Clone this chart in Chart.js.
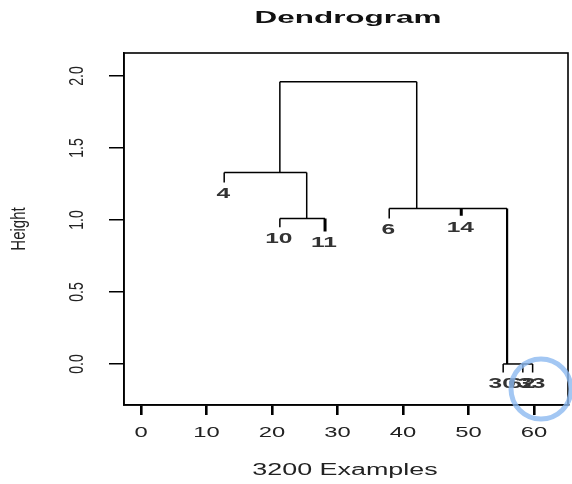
<!DOCTYPE html>
<html>
<head>
<meta charset="utf-8">
<script src="https://cdn.jsdelivr.net/npm/chart.js@4"></script>
<style>
  html, body { margin: 0; padding: 0; background: #fff; }
  #wrap { width: 572px; height: 484px; position: relative; }
</style>
</head>
<body>
<div id="wrap"><canvas id="chart"></canvas></div>
<script>
// leaves of the tree (x position, lower end of the stem, label)
const leafLabels = ["4", "10", "11", "6", "14", "30", "62", "33"];
const leafX = [12.7, 21.2, 28.1, 37.9, 48.9, 55.3, 58.3, 59.8];
const leafEnd = [1.26, 0.95, 0.92, 1.01, 1.03, -0.06, -0.06, -0.06];
const leafParent = [1, 2, 2, 3, 3, 4, 4, 4];

// merges: height of the join, horizontal span, stem going up to the parent
const mergeHeight = [1.96, 1.33, 1.01, 1.08, 0.0];
const mergeFrom = [21.2, 12.7, 21.2, 37.9, 55.3];
const mergeTo = [42.1, 25.3, 28.1, 55.9, 59.8];
const mergeStemX = [null, 21.2, 25.3, 42.1, 55.9];
const mergeParent = [null, 0, 1, 0, 3];

const xTicks = [0, 10, 20, 30, 40, 50, 60];
const xTickLabels = ["0", "10", "20", "30", "40", "50", "60"];
const yTicks = [0, 0.5, 1, 1.5, 2];
const yTickLabels = ["0.0", "0.5", "1.0", "1.5", "2.0"];

const thickLeaves = ["11", "14"];

function seg(points, width) {
  return {
    data: points,
    showLine: true,
    fill: false,
    borderColor: "#000",
    borderWidth: width,
    pointRadius: 0,
  };
}

function createData() {
  let datasets = [];
  for (let i = 0; i < mergeHeight.length; i++) {
    let h = mergeHeight[i];
    datasets.push(seg([{ x: mergeFrom[i], y: h }, { x: mergeTo[i], y: h }], 1.5));
    if (mergeParent[i] !== null) {
      let ph = mergeHeight[mergeParent[i]];
      datasets.push(seg([{ x: mergeStemX[i], y: ph }, { x: mergeStemX[i], y: h }], i == 4 ? 2.2 : 1.5));
    }
  }
  for (let i = 0; i < leafX.length; i++) {
    let ph = mergeHeight[leafParent[i]];
    let w = thickLeaves.includes(leafLabels[i]) ? 3 : 1.5;
    datasets.push(seg([{ x: leafX[i], y: ph }, { x: leafX[i], y: leafEnd[i] }], w));
  }
  return { datasets: datasets };
}

// text in the picture is stretched sideways, so draw it with a scale
function wideText(ctx, text, x, y, sx) {
  ctx.save();
  ctx.translate(x, y);
  ctx.scale(sx, 1);
  ctx.textAlign = "center";
  ctx.textBaseline = "middle";
  ctx.fillText(text, 0, 0);
  ctx.restore();
}

function upText(ctx, text, x, y, sy) {
  ctx.save();
  ctx.translate(x, y);
  ctx.rotate(-Math.PI / 2);
  ctx.scale(1, sy);
  ctx.textAlign = "center";
  ctx.textBaseline = "middle";
  ctx.fillText(text, 0, 0);
  ctx.restore();
}

const decor = {
  id: "decor",
  afterDraw(chart) {
    const ctx = chart.ctx;
    const a = chart.chartArea;
    const xs = chart.scales.x;
    const ys = chart.scales.y;
    ctx.save();

    // box
    ctx.strokeStyle = "#000";
    ctx.lineWidth = 1.6;
    ctx.strokeRect(a.left, a.top, a.right - a.left, a.bottom - a.top);

    // title
    ctx.fillStyle = "#111";
    ctx.font = "bold 17px 'Liberation Sans', Arial, sans-serif";
    wideText(ctx, "Dendrogram", 348, 18, 1.85);

    // x tick labels and title
    ctx.fillStyle = "#222";
    ctx.font = "14px 'Liberation Sans', Arial, sans-serif";
    xTicks.forEach((v, i) => wideText(ctx, xTickLabels[i], xs.getPixelForValue(v), 433, 1.7));
    ctx.font = "16px 'Liberation Sans', Arial, sans-serif";
    wideText(ctx, "3200 Examples", 345, 471, 1.68);

    // y tick labels and title, rotated
    ctx.font = "14px 'Liberation Sans', Arial, sans-serif";
    yTicks.forEach((v, i) => upText(ctx, yTickLabels[i], 78, ys.getPixelForValue(v), 1.4));
    ctx.font = "15px 'Liberation Sans', Arial, sans-serif";
    upText(ctx, "Height", 19, (a.top + a.bottom) / 2, 1.4);

    // leaf labels
    ctx.fillStyle = "#333";
    ctx.font = "bold 14px 'Liberation Sans', Arial, sans-serif";
    leafX.forEach((v, i) => {
      wideText(ctx, leafLabels[i], xs.getPixelForValue(v) - 1, ys.getPixelForValue(leafEnd[i]) + 12, 1.75);
    });

    // highlight ring
    ctx.strokeStyle = "rgba(140, 185, 240, 0.8)";
    ctx.lineWidth = 5;
    ctx.beginPath();
    ctx.arc(541, 389, 30, 0, Math.PI * 2);
    ctx.stroke();

    ctx.restore();
  },
};

const options = {
  responsive: true,
  maintainAspectRatio: false,
  animation: false,
  layout: {
    padding: { top: 53, right: 4, left: 0, bottom: 0 },
  },
  plugins: {
    legend: { display: false },
    tooltip: { enabled: false },
    title: { display: false },
  },
  scales: {
    x: {
      type: "linear",
      min: -2.6,
      max: 65.2,
      afterBuildTicks: (s) => { s.ticks = xTicks.map((v) => ({ value: v })); },
      afterFit: (s) => { s.height = 79; },
      ticks: { display: false },
      grid: { drawOnChartArea: false, drawTicks: true, tickLength: 10, color: "#000", lineWidth: 2.6 },
      border: { display: true, color: "#000", width: 1.6 },
    },
    y: {
      type: "linear",
      min: -0.285,
      max: 2.16,
      afterBuildTicks: (s) => { s.ticks = yTicks.map((v) => ({ value: v })); },
      afterFit: (s) => { s.width = 124; },
      ticks: { display: false },
      grid: { drawOnChartArea: false, drawTicks: true, tickLength: 15, color: "#000", lineWidth: 1.5 },
      border: { display: true, color: "#000", width: 1.6 },
    },
  },
};

var chart = new Chart(document.getElementById("chart").getContext("2d"), {
  type: "scatter",
  data: createData(),
  options: options,
  plugins: [decor],
});
</script>
</body>
</html>
